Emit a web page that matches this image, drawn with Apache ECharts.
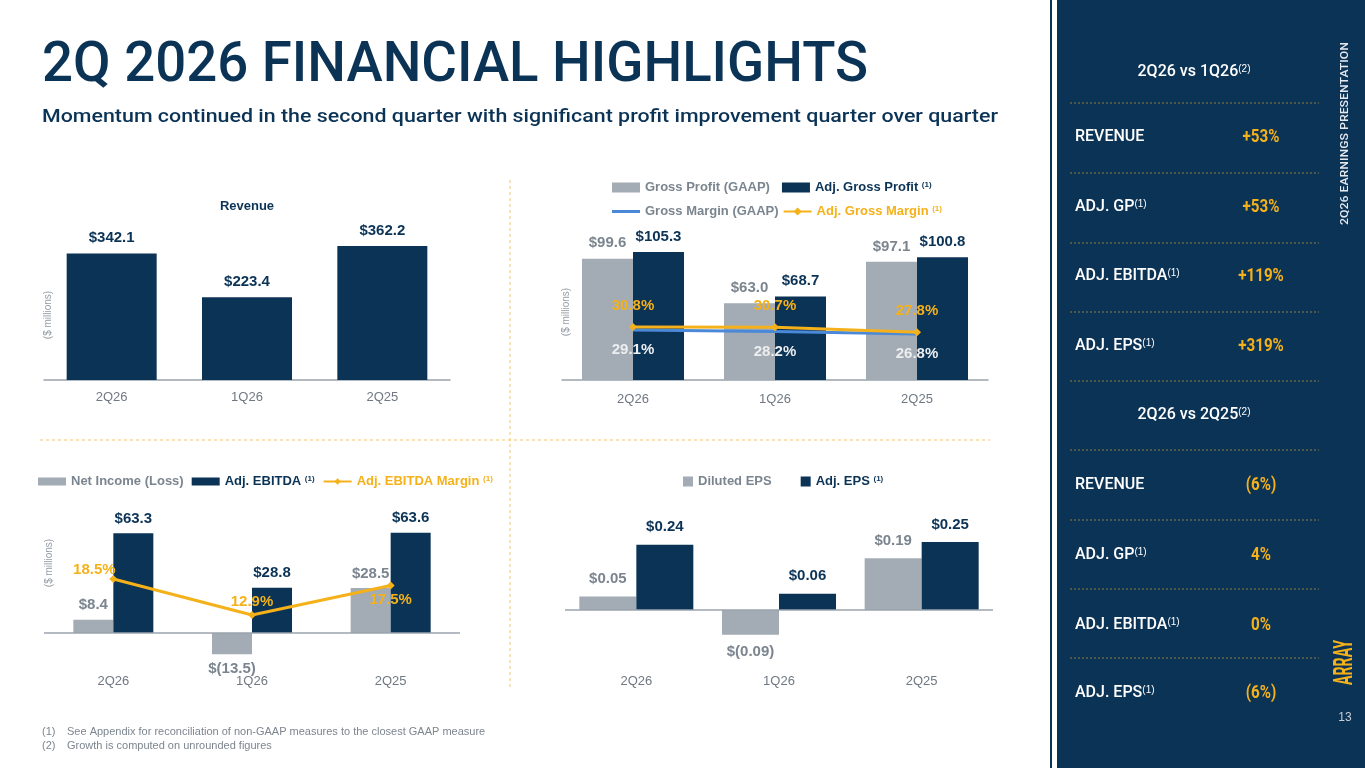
<!DOCTYPE html>
<html>
<head>
<meta charset="utf-8">
<script src="https://cdn.jsdelivr.net/npm/echarts@6/dist/echarts.min.js"></script>
<style>
  html, body { margin: 0; padding: 0; background: #fff; }
  #main { width: 1365px; height: 768px; }
</style>
</head>
<body>
<div id="main"></div>
<script>
// data
const quarters = ['2Q26', '1Q26', '2Q25']
const revenue = [342.1, 223.4, 362.2]
const grossProfit = [99.6, 63.0, 97.1]
const adjGrossProfit = [105.3, 68.7, 100.8]
const grossMargin = [29.1, 28.2, 26.8]
const adjGrossMargin = [30.8, 30.7, 27.8]
const netIncome = [8.4, -13.5, 28.5]
const adjEbitda = [63.3, 28.8, 63.6]
const adjEbitdaMargin = [18.5, 12.9, 17.5]
const dilutedEps = [0.05, -0.09, 0.19]
const adjEps = [0.24, 0.06, 0.25]
const kpiNames = ['REVENUE', 'ADJ. GP', 'ADJ. EBITDA', 'ADJ. EPS']
const kpiSup = [false, true, true, true]
const vsPrevQuarter = ['+53%', '+53%', '+119%', '+319%']
const vsPrevYear = ['(6%)', '4%', '0%', '(6%)']

const navy = '#0b3356'
const gray = '#a3abb4'
const grayText = '#7b858f'
const gold = '#f5b11a'
const blue = '#4a88d8'
const axisGray = '#9aa3ac'
const FONT = 'Liberation Sans, Arial, sans-serif'

const money1 = v => v < 0 ? '$(' + Math.abs(v).toFixed(1) + ')' : '$' + v.toFixed(1)
const money2 = v => v < 0 ? '$(' + Math.abs(v).toFixed(2) + ')' : '$' + v.toFixed(2)
const pct = v => v.toFixed(1) + '%'

// negative bars get their label underneath
const signed = arr => arr.map(v => v < 0 ? { value: v, label: { position: 'bottom' } } : v)

// label placement around the EBITDA margin points
const ebitdaMarginOffsets = [[-19, -9], [0, -13], [0, 14]]

const adjNames = ['Adj. Gross Profit', 'Adj. Gross Margin', 'Adj. EBITDA', 'Adj. EBITDA Margin', 'Adj. EPS']

// measure helper so the condensed slide fonts can be approximated with scaleX
const ctx = document.createElement('canvas').getContext('2d')
function stretch (str, font, width) {
  ctx.font = font
  return width / ctx.measureText(str).width
}

function text (x, y, str, font, fill, opts) {
  opts = opts || {}
  return {
    type: 'text', x, y, silent: true,
    scaleX: opts.scaleX || 1,
    rotation: opts.rotation || 0,
    style: {
      text: str, font, fill,
      textAlign: opts.align || 'left', textVerticalAlign: 'middle',
      align: opts.align || 'left', verticalAlign: 'middle',
      rich: opts.rich
    }
  }
}

function dash (x1, y1, x2, y2, color, d) {
  return {
    type: 'line', silent: true,
    shape: { x1, y1, x2, y2 },
    style: { stroke: color, lineWidth: 1, lineDash: d }
  }
}

const titleFont = '500 56px Roboto'
const subFont = '500 19px Roboto'
const sideFont = '500 16px Roboto'
const valFont = 'bold 19px Roboto'
const noteFont = '11px ' + FONT
const title = '2Q 2026 FINANCIAL HIGHLIGHTS'
const subtitle = 'Momentum continued in the second quarter with significant profit improvement quarter over quarter'
const vertical = '2Q26 EARNINGS PRESENTATION'

const supRich = { s: { fontSize: 10, verticalAlign: 'top', fill: '#ffffff' } }

const graphics = [
  // sidebar
  { type: 'rect', silent: true, shape: { x: 1050, y: 0, width: 315, height: 768 }, style: { fill: navy } },
  { type: 'rect', silent: true, shape: { x: 1052, y: 0, width: 5, height: 768 }, style: { fill: '#ffffff' } },
  text(42, 67, title, titleFont, navy, { scaleX: stretch(title, titleFont, 826) }),
  text(42, 117, subtitle, subFont, navy, { scaleX: stretch(subtitle, subFont, 956) }),
  // dashed separators between the four charts
  dash(510, 180, 510, 688, '#f4c66c', [3, 3]),
  dash(40, 440, 990, 440, '#f4c66c', [3, 3]),
  text(247, 206, 'Revenue', 'bold 13px ' + FONT, navy, { align: 'center' }),
  text(48, 315, '($ millions)', '10px ' + FONT, '#949ca6', { align: 'center', rotation: Math.PI / 2 }),
  text(566, 312, '($ millions)', '10px ' + FONT, '#949ca6', { align: 'center', rotation: Math.PI / 2 }),
  text(49, 563, '($ millions)', '10px ' + FONT, '#949ca6', { align: 'center', rotation: Math.PI / 2 }),
  // footnotes
  text(42, 732, '(1)', noteFont, '#7d858e'),
  text(67, 732, 'See Appendix for reconciliation of non-GAAP measures to the closest GAAP measure', noteFont, '#7d858e'),
  text(42, 746, '(2)', noteFont, '#7d858e'),
  text(67, 746, 'Growth is computed on unrounded figures', noteFont, '#7d858e'),
  // sidebar headings
  text(1194, 72, '2Q26 vs 1Q26{s|(2)}', sideFont, '#ffffff', { align: 'center', rich: supRich }),
  text(1194, 415, '2Q26 vs 2Q25{s|(2)}', sideFont, '#ffffff', { align: 'center', rich: supRich }),
  text(1345, 225, vertical, '500 11px Roboto', '#e6e9ee', { rotation: Math.PI / 2, scaleX: stretch(vertical, '500 11px Roboto', 183) }),
  text(1345, 685, 'ARRAY', 'bold 26px Roboto', gold, { rotation: Math.PI / 2, scaleX: stretch('ARRAY', 'bold 26px Roboto', 45) }),
  text(1345, 718, '13', '12px ' + FONT, '#c8ced6', { align: 'center' })
]

// kpi rows in the sidebar
const lines1 = [103, 173, 243, 312, 381]
const rows1 = [137, 207, 276, 346]
const lines2 = [450, 520, 589, 658]
const rows2 = [485, 555, 625, 693]
lines1.concat(lines2).forEach(y => graphics.push(dash(1070, y, 1319, y, '#8f7f3f', [2, 2])))
kpiNames.forEach((name, i) => {
  const label = name + (kpiSup[i] ? '{s|(1)}' : '')
  graphics.push(text(1075, rows1[i], label, sideFont, '#ffffff', { rich: supRich }))
  graphics.push(text(1075, rows2[i], label, sideFont, '#ffffff', { rich: supRich }))
  graphics.push(text(1261, rows1[i], vsPrevQuarter[i], valFont, gold, { align: 'center', scaleX: 0.8 }))
  graphics.push(text(1261, rows2[i], vsPrevYear[i], valFont, gold, { align: 'center', scaleX: 0.8 }))
})

const catAxis = (gridIndex, margin, onZero) => ({
  type: 'category', gridIndex, data: quarters,
  axisTick: { show: false },
  axisLine: { show: onZero, lineStyle: { color: axisGray, width: 1.5 } },
  axisLabel: { color: '#6f7883', fontSize: 13, margin, fontFamily: FONT }
})

const valLabel = (color, fmt, distance) => ({
  show: true, position: 'top', distance: distance || 7,
  color, fontSize: 15, fontWeight: 'bold', fontFamily: FONT,
  formatter: p => fmt(p.value)
})

const zeroLine = {
  symbol: 'none', silent: true, label: { show: false },
  lineStyle: { color: axisGray, width: 1.5, type: 'solid' },
  data: [{ yAxis: 0 }]
}

const legendBase = {
  selectedMode: false,
  padding: 0,
  itemWidth: 28, itemHeight: 10,
  formatter: name => adjNames.includes(name) ? name + ' {s|(1)}' : name,
  textStyle: {
    fontSize: 13, fontWeight: 'bold', fontFamily: FONT,
    rich: { s: { fontSize: 8, fontWeight: 'bold', verticalAlign: 'top' } }
  }
}

const option = {
  animation: false,
  backgroundColor: '#ffffff',
  textStyle: { fontFamily: FONT },
  graphic: { elements: graphics },
  legend: [
    Object.assign({}, legendBase, {
      left: 612, top: 181, itemGap: 12,
      data: [
        { name: 'Gross Profit (GAAP)', icon: 'rect', textStyle: { color: grayText } },
        { name: 'Adj. Gross Profit', icon: 'rect', textStyle: { color: navy } }
      ]
    }),
    Object.assign({}, legendBase, {
      left: 612, top: 205, itemGap: 4,
      data: [
        { name: 'Gross Margin (GAAP)', icon: 'path://M0,0H28V3H0Z', textStyle: { color: grayText } },
        { name: 'Adj. Gross Margin', textStyle: { color: gold } }
      ]
    }),
    Object.assign({}, legendBase, {
      left: 38, top: 475, itemHeight: 8, itemGap: 8,
      data: [
        { name: 'Net Income (Loss)', icon: 'rect', textStyle: { color: grayText } },
        { name: 'Adj. EBITDA', icon: 'rect', textStyle: { color: navy } },
        { name: 'Adj. EBITDA Margin', textStyle: { color: gold } }
      ]
    }),
    Object.assign({}, legendBase, {
      left: 683, top: 475, itemWidth: 10, itemHeight: 10, itemGap: 29,
      data: [
        { name: 'Diluted EPS', icon: 'rect', textStyle: { color: grayText } },
        { name: 'Adj. EPS', icon: 'rect', textStyle: { color: navy } }
      ]
    })
  ],
  grid: [
    { left: 44, top: 232, width: 406, height: 148 },
    { left: 562, top: 234, width: 426, height: 146 },
    { left: 44, top: 507, width: 416, height: 157.5 },
    { left: 565, top: 501, width: 428, height: 150 }
  ],
  xAxis: [
    catAxis(0, 11, true),
    catAxis(1, 13, true),
    Object.assign(catAxis(2, 10, false), { axisLine: { show: false, onZero: false } }),
    Object.assign(catAxis(3, 24, false), { axisLine: { show: false, onZero: false } })
  ],
  yAxis: [
    { type: 'value', gridIndex: 0, min: 0, max: 400, show: false },
    { type: 'value', gridIndex: 1, min: 0, max: 120, show: false },
    { type: 'value', gridIndex: 1, min: 0, max: 85, show: false },
    { type: 'value', gridIndex: 2, min: -20, max: 80, show: false },
    { type: 'value', gridIndex: 2, min: 5.2, max: 29.7, show: false },
    { type: 'value', gridIndex: 3, min: -0.15, max: 0.4, show: false }
  ],
  series: [
    {
      name: 'Revenue', type: 'bar', xAxisIndex: 0, yAxisIndex: 0,
      barWidth: 90, data: revenue, itemStyle: { color: navy },
      label: valLabel(navy, money1, 8)
    },
    {
      name: 'Gross Profit (GAAP)', type: 'bar', xAxisIndex: 1, yAxisIndex: 1,
      barWidth: 51, barGap: '0%', data: grossProfit, itemStyle: { color: gray },
      label: valLabel(grayText, money1, 8)
    },
    {
      name: 'Adj. Gross Profit', type: 'bar', xAxisIndex: 1, yAxisIndex: 1,
      barWidth: 51, barGap: '0%', data: adjGrossProfit, itemStyle: { color: navy },
      label: valLabel(navy, money1, 8)
    },
    {
      name: 'Gross Margin (GAAP)', type: 'line', xAxisIndex: 1, yAxisIndex: 2,
      data: grossMargin, symbol: 'circle', symbolSize: 1,
      itemStyle: { color: blue }, lineStyle: { color: blue, width: 3 },
      label: { show: true, position: 'bottom', distance: 12, color: '#eceef0', fontSize: 15, fontWeight: 'bold', formatter: p => pct(p.value) }
    },
    {
      name: 'Adj. Gross Margin', type: 'line', xAxisIndex: 1, yAxisIndex: 2,
      data: adjGrossMargin, symbol: 'diamond', symbolSize: 8,
      itemStyle: { color: gold }, lineStyle: { color: gold, width: 3 },
      label: { show: true, position: 'top', distance: 10, color: gold, fontSize: 15, fontWeight: 'bold', formatter: p => pct(p.value) }
    },
    {
      name: 'Net Income (Loss)', type: 'bar', xAxisIndex: 2, yAxisIndex: 3,
      barWidth: 40, barGap: '0%', data: signed(netIncome), itemStyle: { color: gray },
      label: valLabel(grayText, money1, 7),
      markLine: zeroLine
    },
    {
      name: 'Adj. EBITDA', type: 'bar', xAxisIndex: 2, yAxisIndex: 3,
      barWidth: 40, barGap: '0%', data: adjEbitda, itemStyle: { color: navy },
      label: valLabel(navy, money1, 7)
    },
    {
      name: 'Adj. EBITDA Margin', type: 'line', xAxisIndex: 2, yAxisIndex: 4,
      data: adjEbitdaMargin.map((v, i) => ({ value: v, label: { offset: ebitdaMarginOffsets[i] } })),
      symbol: 'diamond', symbolSize: 8,
      itemStyle: { color: gold }, lineStyle: { color: gold, width: 3 },
      label: { show: true, position: 'inside', color: gold, fontSize: 15, fontWeight: 'bold', formatter: p => pct(p.value) }
    },
    {
      name: 'Diluted EPS', type: 'bar', xAxisIndex: 3, yAxisIndex: 5,
      barWidth: 57, barGap: '0%', data: signed(dilutedEps), itemStyle: { color: gray },
      label: valLabel(grayText, money2, 10),
      markLine: zeroLine
    },
    {
      name: 'Adj. EPS', type: 'bar', xAxisIndex: 3, yAxisIndex: 5,
      barWidth: 57, barGap: '0%', data: adjEps, itemStyle: { color: navy },
      label: valLabel(navy, money2, 10)
    }
  ]
}

const chart = echarts.init(document.getElementById('main'))
chart.setOption(option)
</script>
</body>
</html>
